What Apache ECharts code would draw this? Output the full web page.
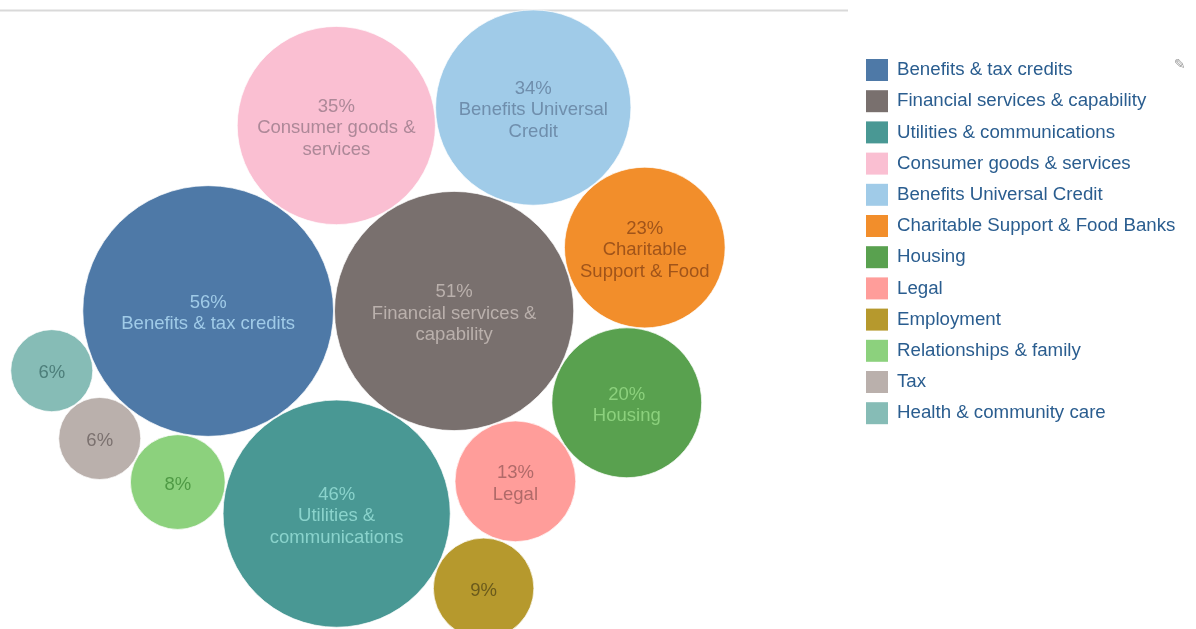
<!DOCTYPE html>
<html>
<head>
<meta charset="utf-8">
<script src="https://cdn.jsdelivr.net/npm/echarts@6/dist/echarts.min.js"></script>
<style>
  html, body { margin: 0; padding: 0; background: #fff; }
  #chart { width: 1196px; height: 629px; }
</style>
</head>
<body>
<div id="chart"></div>
<script>
// ---- data ----
const categories = [
  'Benefits & tax credits',
  'Financial services & capability',
  'Utilities & communications',
  'Consumer goods & services',
  'Benefits Universal Credit',
  'Charitable Support & Food Banks',
  'Housing',
  'Legal',
  'Employment',
  'Relationships & family',
  'Tax',
  'Health & community care'
];
const values = [56, 51, 46, 35, 34, 23, 20, 13, 9, 8, 6, 6];

// ---- styles ----
const fillColors = ['#4e79a7', '#79706e', '#499894', '#fabfd2', '#a0cbe8', '#f28e2b',
                    '#59a14f', '#ff9d9a', '#b6992d', '#8cd17d', '#bab0ac', '#86bcb6'];
const labelColors = ['#a0cbe8', '#bab0ac', '#8ad3cc', '#ad8898', '#6f8eac', '#a0541a',
                     '#8cd17d', '#b06a69', '#6a5a1c', '#4f9a45', '#7b716f', '#4d7e7a'];

const FONT_SIZE = 18.5;
const LINE_H = 21.5;
const FONT_FAMILY = '"Liberation Sans", Arial, sans-serif';
const R_SCALE = 16.75;        // px per sqrt(value)  (area proportional to value)
const PAD = 1;                // gap between bubbles
const PLOT_W = 848, PLOT_H = 629;
const ANCHOR_X = 334, ANCHOR_Y = 311;   // touching point of the two largest bubbles
const BOUNDS = { left: 0, top: 0, right: PLOT_W, bottom: 670 };  // packing area

// ---- front-chain circle packing ----
function place(b, a, c) {
  var dx = b.x - a.x, x, a2, dy = b.y - a.y, y, b2, d2 = dx * dx + dy * dy;
  if (d2) {
    a2 = a.r + c.r; a2 *= a2;
    b2 = b.r + c.r; b2 *= b2;
    if (a2 > b2) {
      x = (d2 + b2 - a2) / (2 * d2);
      y = Math.sqrt(Math.max(0, b2 / d2 - x * x));
      c.x = b.x - x * dx - y * dy;
      c.y = b.y - x * dy + y * dx;
    } else {
      x = (d2 + a2 - b2) / (2 * d2);
      y = Math.sqrt(Math.max(0, a2 / d2 - x * x));
      c.x = a.x + x * dx - y * dy;
      c.y = a.y + x * dy + y * dx;
    }
  } else {
    c.x = a.x + c.r; c.y = a.y;
  }
}
function intersects(a, b) {
  var dr = a.r + b.r - 1e-6, dx = b.x - a.x, dy = b.y - a.y;
  return dr > 0 && dr * dr > dx * dx + dy * dy;
}
function inBounds(c) {
  return c.x - c.r >= BOUNDS.left && c.x + c.r <= BOUNDS.right &&
         c.y - c.r >= BOUNDS.top && c.y + c.r <= BOUNDS.bottom;
}
function Node(circle) { this._ = circle; this.next = null; this.previous = null; }
function pack(circles) {
  const n = circles.length;
  const A = circles[0], B = circles[1];
  A.x = ANCHOR_X - A.r; A.y = ANCHOR_Y;
  if (n < 2) return;
  B.x = ANCHOR_X + B.r; B.y = ANCHOR_Y;
  if (n < 3) return;
  place(B, A, circles[2]);
  let a = new Node(A), b = new Node(B), c = new Node(circles[2]);
  a.next = c.previous = b; b.next = a.previous = c; c.next = b.previous = a;
  let guard = 0;
  outer: for (let i = 3; i < n; ++i) {
    if (++guard > 1000) break;
    const ci = circles[i];
    place(a._, b._, ci); c = new Node(ci);
    let j = b.next, k = a.previous, sj = b._.r, sk = a._.r;
    do {
      if (sj <= sk) {
        if (intersects(j._, c._)) { b = j; a.next = b; b.previous = a; --i; continue outer; }
        sj += j._.r; j = j.next;
      } else {
        if (intersects(k._, c._)) { a = k; a.next = b; b.previous = a; --i; continue outer; }
        sk += k._.r; k = k.previous;
      }
    } while (j !== k.next);
    if (!inBounds(ci)) { a = b; b = b.next; --i; continue; }
    c.previous = a; c.next = b; a.next = b.previous = c;
    a = c;   // continue around the chain from the newest bubble
  }
}

const circles = values.map(v => ({ r: R_SCALE * Math.sqrt(v) + PAD / 2 }));
pack(circles);
circles.forEach(c => { c.r -= PAD / 2; });

// ---- label wrapping ----
const measureCtx = document.createElement('canvas').getContext('2d');
measureCtx.font = FONT_SIZE + 'px ' + FONT_FAMILY;
function wrap(text, maxW) {
  const words = text.split(' ');
  const lines = [];
  let cur = '';
  words.forEach(w => {
    const t = cur ? cur + ' ' + w : w;
    if (cur && measureCtx.measureText(t).width > maxW) { lines.push(cur); cur = w; }
    else cur = t;
  });
  if (cur) lines.push(cur);
  return lines;
}
function labelText(i) {
  const r = circles[i].r;
  const maxLines = Math.floor(0.83 * r / LINE_H);
  let lines = [values[i] + '%'];
  if (maxLines > 1) lines = lines.concat(wrap(categories[i], 1.7 * r));
  return lines.slice(0, Math.max(1, maxLines)).join('\n');
}

// ---- chart ----
const series = categories.map((name, i) => ({
  name: name,
  type: 'scatter',
  clip: false,
  symbol: 'circle',
  symbolSize: 2 * circles[i].r,
  itemStyle: { color: fillColors[i], opacity: 1, borderColor: 'rgba(255,255,255,0.7)', borderWidth: 1 },
  emphasis: { scale: false },
  label: {
    show: true,
    position: 'inside',
    offset: [0, 2.5],
    formatter: () => labelText(i),
    color: labelColors[i],
    fontSize: FONT_SIZE,
    lineHeight: LINE_H,
    fontFamily: FONT_FAMILY,
    align: 'center'
  },
  data: [[circles[i].x, circles[i].y, values[i]]]
}));

const chart = echarts.init(document.getElementById('chart'), null, { renderer: 'canvas' });
chart.setOption({
  animation: false,
  backgroundColor: '#ffffff',
  grid: { left: 0, top: 0, width: PLOT_W, height: PLOT_H },
  xAxis: { type: 'value', min: 0, max: PLOT_W, show: false },
  yAxis: { type: 'value', inverse: true, min: 0, max: PLOT_H, show: false },
  legend: {
    orient: 'vertical',
    left: 866,
    top: 59,
    padding: 0,
    itemWidth: 22,
    itemHeight: 22,
    itemGap: 9.2,
    icon: 'rect',
    data: categories,
    textStyle: { color: '#2a5d8f', fontSize: 18.7, fontFamily: FONT_FAMILY, lineHeight: 22, padding: [0, 0, 0, 4] },
    itemStyle: { borderWidth: 0 }
  },
  graphic: [
    { type: 'line', z: -10, shape: { x1: 0, y1: 10.5, x2: 848, y2: 10.5 }, style: { stroke: '#d9d9d9', lineWidth: 2 } },
    { type: 'text', left: 1174, top: 58, style: { text: '\u270E', fill: '#9a9a9a', fontSize: 14, fontFamily: 'DejaVu Sans' } }
  ],
  series: series
});
</script>
</body>
</html>
